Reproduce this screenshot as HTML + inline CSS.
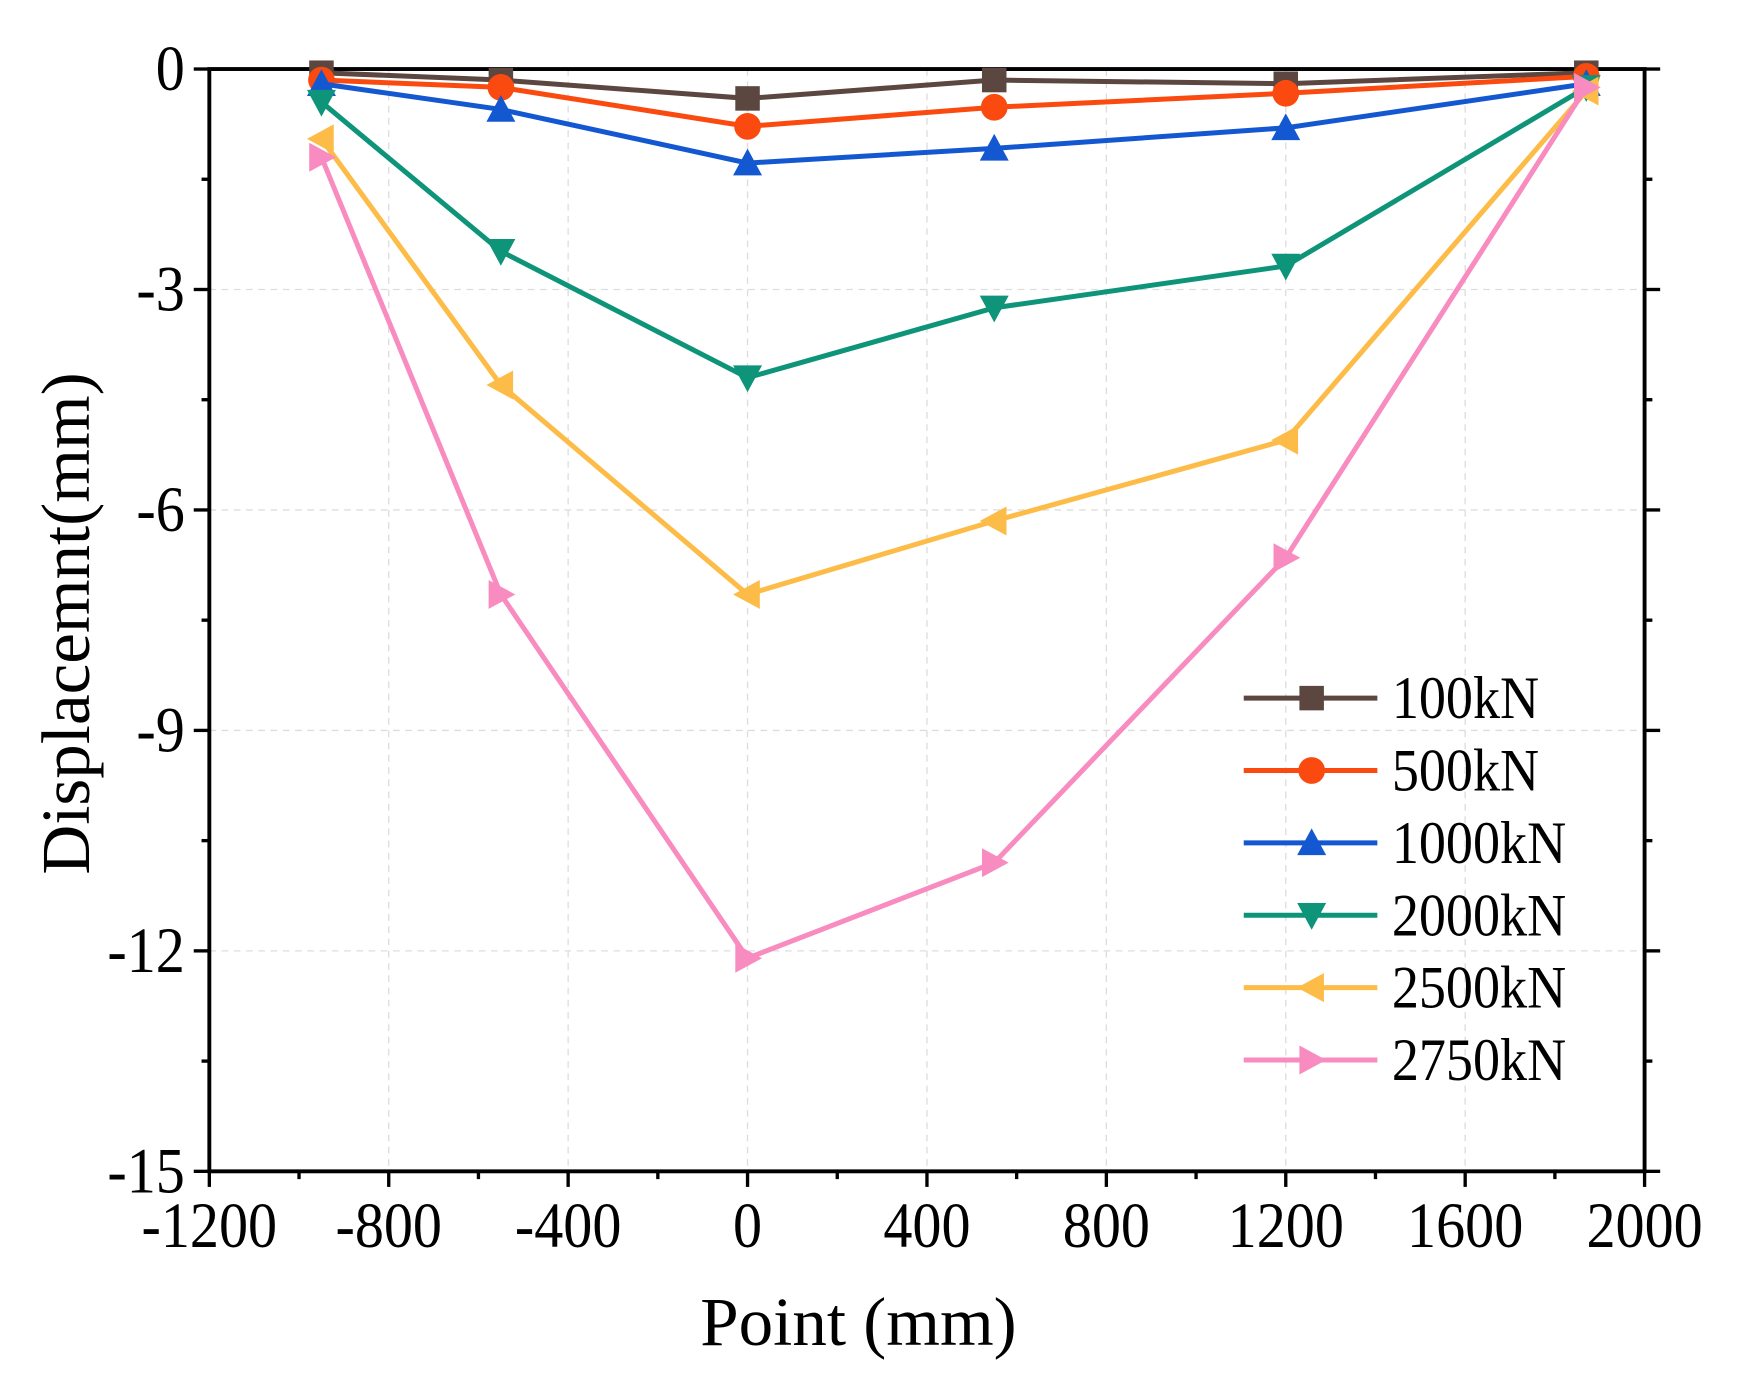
<!DOCTYPE html>
<html><head><meta charset="utf-8"><style>html,body{margin:0;padding:0;background:#fff}svg{display:block}</style></head>
<body>
<svg id="chart" width="1737" height="1388" viewBox="0 0 1560 1246.6" preserveAspectRatio="none" xmlns="http://www.w3.org/2000/svg" font-family="Liberation Serif, serif"></svg>
<script>
const xValues = [-950, -550, 0, 550, 1200, 1870];
const seriesNames = ["100kN","500kN","1000kN","2000kN","2500kN","2750kN"];
const s100 = [-0.05, -0.15, -0.4, -0.15, -0.2, -0.05];
const s500 = [-0.15, -0.25, -0.78, -0.52, -0.33, -0.1];
const s1000 = [-0.2, -0.55, -1.28, -1.08, -0.8, -0.2];
const s2000 = [-0.45, -2.48, -4.2, -3.25, -2.68, -0.25];
const s2500 = [-0.95, -4.3, -7.15, -6.15, -5.05, -0.3];
const s2750 = [-1.2, -7.15, -12.1, -10.8, -6.65, -0.25];
const xTicks = [-1200,-800,-400,0,400,800,1200,1600,2000];
const yTicks = [0,-3,-6,-9,-12,-15];
const allSeries = [s100,s500,s1000,s2000,s2500,s2750];
const colors = ["#5b4640","#fa4a10","#1358d0","#0e9479","#fdbb47","#f88bbf"];
const markers = ["square","circle","up","down","left","right"];

const L=188,R=1477,T=62,B=1052;
const X=v=>L+(v+1200)/3200*(R-L);
const Y=v=>T+(0-v)/15*(B-T);
const svg=document.getElementById('chart');
const NS="http://www.w3.org/2000/svg";
function mk(tag,attrs,parent){const e=document.createElementNS(NS,tag);for(const k in attrs)e.setAttribute(k,attrs[k]);(parent||svg).appendChild(e);return e;}

const grid=mk('g',{});


xTicks.slice(1,-1).forEach(t=>mk('line',{x1:X(t),x2:X(t),y1:T,y2:B,stroke:'#ddd','stroke-width':1.2,'stroke-dasharray':'6,5'},grid));
yTicks.slice(1,-1).forEach(t=>mk('line',{x1:L,x2:R,y1:Y(t),y2:Y(t),stroke:'#ddd','stroke-width':1.2,'stroke-dasharray':'6,5'},grid));

const axes=mk('g',{stroke:'#000','stroke-width':3});


xTicks.forEach(t=>{mk('line',{x1:X(t),x2:X(t),y1:B,y2:B+14},axes);});
xTicks.slice(0,-1).forEach(t=>{mk('line',{x1:X(t+200),x2:X(t+200),y1:B,y2:B+7},axes);});
for(let v=0;v>=-15;v-=1.5){const major=(Math.abs(v%3)<0.01);
 mk('line',{x1:L-(major?14:7),x2:L,y1:Y(v),y2:Y(v)},axes);
 mk('line',{x1:R,x2:R+(major?14:7),y1:Y(v),y2:Y(v)},axes);}
mk('rect',{x:L,y:T,width:R-L,height:B-T,fill:'none',stroke:'#000','stroke-width':3.5});

xTicks.forEach(t=>{const e=mk('text',{x:X(t),y:B+68,'font-size':58,'text-anchor':'middle',transform:`translate(${X(t)*0.1},0) scale(0.9,1)`});e.textContent=t;
 
 });
yTicks.forEach(t=>{const e=mk('text',{x:L-22,y:Y(t)+19,'font-size':58,'text-anchor':'end',transform:`translate(${(L-22)*0.1},0) scale(0.9,1)`});e.textContent=t;
 
 });
const xt=mk('text',{x:771,y:1208,'font-size':62,'text-anchor':'middle'});xt.textContent='Point (mm)';


const yt=mk('text',{x:0,y:0,'font-size':62,'text-anchor':'middle',transform:`translate(80,560) rotate(-90)`});yt.textContent='Displacemnt(mm)';



function marker(type,cx,cy,color,parent){
 const s=11;
 if(type==='square')return mk('rect',{x:cx-s,y:cy-s,width:2*s,height:2*s,fill:color},parent);
 if(type==='circle')return mk('circle',{cx,cy,r:s+1,fill:color},parent);
 let p;
 if(type==='up')p=[[cx,cy-s-2],[cx-s-2,cy+s],[cx+s+2,cy+s]];
 if(type==='down')p=[[cx,cy+s+2],[cx-s-2,cy-s],[cx+s+2,cy-s]];
 if(type==='left')p=[[cx-s-2,cy],[cx+s,cy-s-2],[cx+s,cy+s+2]];
 if(type==='right')p=[[cx+s+2,cy],[cx-s,cy-s-2],[cx-s,cy+s+2]];
 return mk('polygon',{points:p.map(q=>q.join(',')).join(' '),fill:color},parent);
}

allSeries.forEach((ser,i)=>{
 const g=mk('g',{});
 
 
 mk('polyline',{points:ser.map((v,j)=>X(xValues[j])+','+Y(v)).join(' '),fill:'none',stroke:colors[i],'stroke-width':4.5},g);
 ser.forEach((v,j)=>{const m=marker(markers[i],X(xValues[j]),Y(v),colors[i],g);
  
  });
 const ly=627+65*i;
 const lg=mk('g',{});
 
 
 mk('line',{x1:1117,x2:1237,y1:ly,y2:ly,stroke:colors[i],'stroke-width':4.5},lg);
 marker(markers[i],1178,ly,colors[i],lg);
 const t=mk('text',{x:1250,y:ly+18,'font-size':54,transform:`translate(125,0) scale(0.9,1)`},lg);t.textContent=seriesNames[i];
});
</script>
</body></html>
